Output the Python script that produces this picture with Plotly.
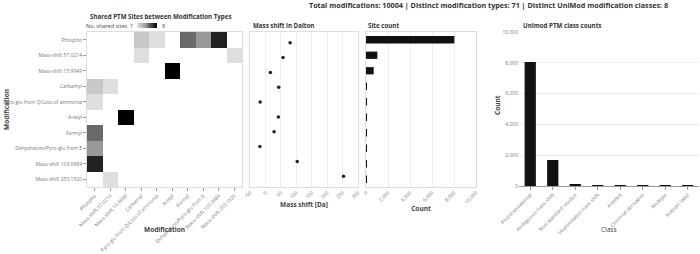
import plotly.graph_objects as go
import numpy as np

mods = ["Phospho", "Mass-shift 57.0214", "Mass-shift 15.9949", "Carbamyl",
        "Pyro-glu from Q/Loss of ammonia", "Acetyl", "Formyl",
        "Dehydration/Pyro-glu from E", "Mass-shift 103.0684", "Mass-shift 253.1520"]

# shared site pairs (row, col, value); matrix is symmetric
shared_pairs = [
    ("Phospho", "Carbamyl", 2),
    ("Phospho", "Pyro-glu from Q/Loss of ammonia", 1),
    ("Phospho", "Formyl", 5),
    ("Phospho", "Dehydration/Pyro-glu from E", 4),
    ("Phospho", "Mass-shift 103.0684", 7),
    ("Mass-shift 57.0214", "Carbamyl", 1),
    ("Mass-shift 57.0214", "Mass-shift 253.1520", 1),
    ("Mass-shift 15.9949", "Acetyl", 8),
]
legend_min, legend_max = 1, 8

mass_shift = [79.9663, 57.0214, 15.9949, 43.0058, -17.0265, 42.0106, 27.9949, -18.0106, 103.0684, 253.1520]
site_count = [8030, 1030, 700, 90, 15, 12, 10, 8, 8, 5]

classes = ["Post-translational", "Ambiguous mass shift", "Non-standard residue",
           "Unannotated mass shift", "Artefact", "Chemical derivative", "Multiple", "Isotopic label"]
class_counts = [8050, 1690, 90, 40, 30, 5, 3, 2]

title_text = "Total modifications: 10004 | Distinct modification types: 71 | Distinct UniMod modification classes: 8"

n = len(mods)
idx = {m: i for i, m in enumerate(mods)}
z = np.full((n, n), np.nan)
for a, b, v in shared_pairs:
    z[idx[a], idx[b]] = v
    z[idx[b], idx[a]] = v
zt = [[None if np.isnan(v) else v for v in row] for row in z]

W, H = 700, 254
def xd(a, b):
    return [a / W, b / W]
def yd(top, bottom):
    return [1 - bottom / H, 1 - top / H]

FONT = "Open Sans"
TICK = dict(family=FONT, size=5, color="#777")
TITLEF = dict(family=FONT, size=6.2, color="#333")
AXT = dict(family=FONT, size=6.5, color="#444")
BORDER = "#dddddd"

cscale = [[0, "#dedede"], [1/7, "#c8c8c8"], [3/7, "#999999"], [4/7, "#6a6a6a"],
          [6/7, "#222222"], [1, "#000000"]]

fig = go.Figure()

fig.add_trace(go.Heatmap(
    x=mods, y=mods, z=zt, zmin=legend_min, zmax=legend_max, colorscale=cscale,
    xaxis="x", yaxis="y", hoverongaps=False, showscale=False,
))

# gradient legend
grad = np.linspace(legend_min, legend_max, 40)
fig.add_trace(go.Heatmap(
    z=[grad.tolist()], zmin=legend_min, zmax=legend_max, colorscale=cscale,
    xaxis="x5", yaxis="y5", showscale=False, hoverinfo="skip",
))

fig.add_trace(go.Scatter(
    x=mass_shift, y=mods, mode="markers", xaxis="x2", yaxis="y2",
    marker=dict(color="#222", size=3.5, symbol="circle"), showlegend=False,
))

fig.add_trace(go.Bar(
    x=site_count, y=mods, orientation="h", xaxis="x3", yaxis="y3",
    marker=dict(color="#111", line=dict(width=0)), width=0.47, showlegend=False,
))

fig.add_trace(go.Bar(
    x=classes, y=class_counts, xaxis="x4", yaxis="y4",
    marker=dict(color="#111", line=dict(width=0)), width=0.5, showlegend=False,
))

common_y = dict(categoryorder="array", categoryarray=mods, autorange="reversed",
                showgrid=False, zeroline=False, showline=True, linecolor=BORDER, mirror=True,
                automargin=False)

fig.update_layout(
    width=W, height=H, margin=dict(l=0, r=0, t=0, b=0, autoexpand=False),
    paper_bgcolor="white", plot_bgcolor="white", showlegend=False,
    font=dict(family=FONT, color="#444"),
    xaxis=dict(domain=xd(87, 242), tickangle=-45, tickfont=TICK, ticks="outside", ticklen=3,
               tickcolor="#999", showgrid=False, zeroline=False, showline=True, linecolor=BORDER,
               mirror=True, anchor="y", automargin=False),
    yaxis=dict(domain=yd(32, 187), tickfont=TICK, ticks="outside", ticklen=3, tickcolor="#999",
               anchor="x", **common_y),
    xaxis2=dict(domain=xd(250, 358), range=[-50, 300], dtick=50, tickangle=-45, tickfont=TICK,
                showgrid=True, gridcolor="#eeeeee", zeroline=False, showline=True, linecolor=BORDER,
                mirror=True, anchor="y2", ticks="", tickformat=",", automargin=False,
                title=dict(text="<b>Mass shift [Da]</b>", font=AXT, standoff=2)),
    yaxis2=dict(domain=yd(32, 187), anchor="x2", showticklabels=False, ticks="", **common_y),
    xaxis3=dict(domain=xd(366, 476), range=[0, 10000], dtick=2000, tickangle=-45, tickfont=TICK,
                showgrid=True, gridcolor="#eeeeee", zeroline=False, showline=True, linecolor=BORDER,
                mirror=True, anchor="y3", ticks="", tickformat=",", automargin=False,
                title=dict(text="<b>Count</b>", font=AXT, standoff=2)),
    yaxis3=dict(domain=yd(32, 187), anchor="x3", showticklabels=False, ticks="", **common_y),
    xaxis4=dict(domain=xd(519, 699), tickangle=-45, tickfont=TICK, showgrid=False, zeroline=False,
                showline=True, linecolor="#999", mirror=False, anchor="y4", ticks="outside", ticklen=3,
                tickcolor="#999", automargin=False),
    yaxis4=dict(domain=yd(32, 186), range=[0, 10000], dtick=2000, tickfont=TICK, tickformat=",",
                showgrid=True, gridcolor="#eeeeee", zeroline=False, showline=False, anchor="x4",
                ticks="", automargin=False),
    xaxis5=dict(domain=xd(137, 157), anchor="y5", visible=False, fixedrange=True),
    yaxis5=dict(domain=yd(23, 28), anchor="x5", visible=False, fixedrange=True),
    bargap=0.5,
)

annots = [
    dict(text="<b>" + title_text + "</b>", x=488 / W, y=1 - 5 / H, font=dict(family=FONT, size=7.2, color="#333"),
         xanchor="center", yanchor="middle"),
    dict(text="<b>Shared PTM Sites between Modification Types</b>", x=88 / W, y=1 - 17 / H, font=TITLEF,
         xanchor="left", yanchor="middle"),
    dict(text="No. shared sites  1", x=135 / W, y=1 - 25.5 / H, font=dict(family=FONT, size=5.5, color="#444"),
         xanchor="right", yanchor="middle"),
    dict(text="8", x=160 / W, y=1 - 25.5 / H, font=dict(family=FONT, size=5.5, color="#444"),
         xanchor="left", yanchor="middle"),
    dict(text="<b>Mass shift in Dalton</b>", x=251 / W, y=1 - 25 / H, font=TITLEF, xanchor="left", yanchor="middle"),
    dict(text="<b>Site count</b>", x=366 / W, y=1 - 25 / H, font=TITLEF, xanchor="left", yanchor="middle"),
    dict(text="<b>Unimod PTM class counts</b>", x=521 / W, y=1 - 25 / H, font=TITLEF, xanchor="left", yanchor="middle"),
    dict(text="<b>Modification</b>", x=164 / W, y=1 - 229 / H, font=AXT, xanchor="center", yanchor="middle"),
    dict(text="<b>Modification</b>", x=6 / W, y=1 - 110 / H, font=AXT, xanchor="center", yanchor="middle",
         textangle=-90),
    dict(text="Class", x=609 / W, y=1 - 229 / H, font=AXT, xanchor="center", yanchor="middle"),
    dict(text="<b>Count</b>", x=498 / W, y=1 - 105 / H, font=AXT, xanchor="center", yanchor="middle",
         textangle=-90),
]
for a in annots:
    a.update(xref="paper", yref="paper", showarrow=False)
fig.update_layout(annotations=annots)

# remove the browser's default 8px body margin so the figure sits at the page origin
fig.write_html("out.html", config={"displayModeBar": False},
               post_script="document.body.style.margin='0px';")
